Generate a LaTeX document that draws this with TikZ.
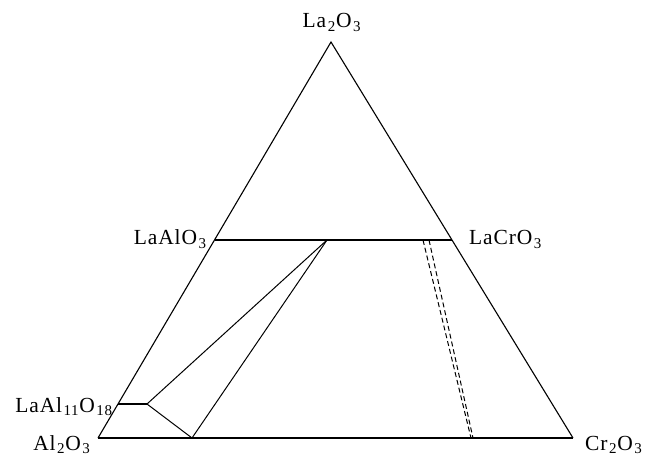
\documentclass[tikz,border=0pt]{standalone}
\usepackage{fontspec}
\setmainfont{Liberation Serif}
\newcommand{\sbx}[1]{\raisebox{-0.35ex}{\fontsize{15}{16}\selectfont\kern0.1em#1\kern0.05em}}
\begin{document}
\begin{tikzpicture}[x=1pt,y=-1pt,
  side/.style={line width=1.1pt},
  thickline/.style={line width=2pt},
  tie/.style={line width=1pt},
  dashtie/.style={line width=1pt, dash pattern=on 5pt off 3pt},
  lbl/.style={font=\fontsize{21.5}{24}\selectfont\addfontfeatures{LetterSpace=4}, inner sep=0pt}]
\useasboundingbox (0,0) rectangle (648,457);
% vertices
\coordinate (A) at (98,438);
\coordinate (C) at (573,438);
\coordinate (L) at (331,42);
\coordinate (LA) at (214.5,240);
\coordinate (LC) at (452,240);
\coordinate (LX) at (118,404);
\coordinate (P) at (147,404);
\coordinate (Q) at (192,438);
\coordinate (T) at (327,240);
\coordinate (D1t) at (423,240);
\coordinate (D1b) at (471,438);
\coordinate (D2t) at (429,240);
\coordinate (D2b) at (473,438);
% triangle
\draw[side, line join=miter] (A) -- (L) -- (C);
\draw[thickline] (A) -- (C);
\draw[thickline] (LA) -- (LC);
\draw[thickline] (LX) -- (P);
% tie lines
\draw[tie] (P) -- (T);
\draw[tie] (P) -- (Q);
\draw[tie] (Q) -- (T);
\draw[dashtie] (D1t) -- (D1b);
\draw[dashtie] (D2t) -- (D2b);
% labels
\node[lbl, anchor=base] (nL) at (332,28) {La\sbx{2}O\sbx{3}};
\node[lbl, anchor=base east] (nLA) at (207,245) {LaAlO\sbx{3}};
\node[lbl, anchor=base west] (nLC) at (469,245) {LaCrO\sbx{3}};
\node[lbl, anchor=base east] (nLX) at (113,412) {LaAl\sbx{11}O\sbx{18}};
\node[lbl, anchor=base] (nA) at (62,450) {Al\sbx{2}O\sbx{3}};
\node[lbl, anchor=base west] (nC) at (585,450) {Cr\sbx{2}O\sbx{3}};
\end{tikzpicture}
\end{document}
